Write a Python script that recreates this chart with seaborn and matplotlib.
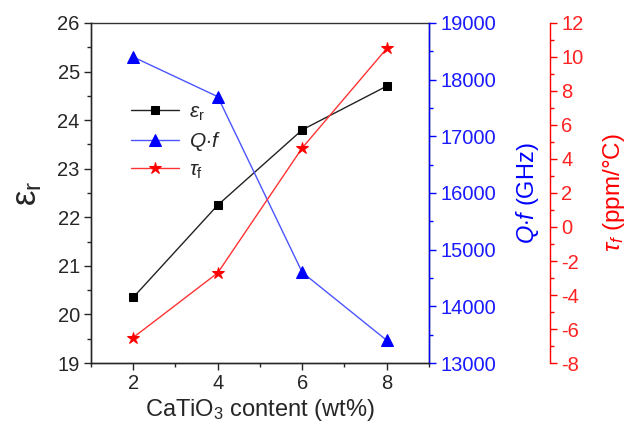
import matplotlib
matplotlib.use("Agg")
import matplotlib.pyplot as plt
from matplotlib.ticker import MultipleLocator
import pandas as pd
import seaborn as sns

# CaTiO3 content (wt%) and measured microwave dielectric properties
content = [2, 4, 6, 8]
eps_r = [20.35, 22.25, 23.8, 24.7]
qf = [18400, 17700, 14600, 13400]
tau_f = [-6.5, -2.7, 4.65, 10.5]

sns.set_theme(style="ticks")
plt.rcParams["font.family"] = ["Liberation Sans", "DejaVu Sans"]
plt.rcParams["mathtext.fontset"] = "custom"
plt.rcParams["mathtext.rm"] = "Liberation Sans"
plt.rcParams["mathtext.it"] = "Liberation Sans:italic"
plt.rcParams["mathtext.bf"] = "Liberation Sans:bold"
plt.rcParams["axes.unicode_minus"] = False

df = pd.DataFrame({"content": content, "eps": eps_r, "qf": qf, "tau": tau_f})

fig = plt.figure(figsize=(6.3, 4.36), dpi=100)
ax = fig.add_axes([0.1444, 0.1674, 0.5365, 0.7799])
ax2 = ax.twinx()
ax3 = ax.twinx()
ax3.spines["right"].set_position(("axes", 1.358))

lw = 1.0
sns.lineplot(data=df, x="content", y="eps", ax=ax, color="#222222", marker="s",
             markersize=6, markerfacecolor="black", markeredgecolor="black",
             linewidth=lw, label=r"$\it{\varepsilon}_\mathrm{r}$", legend=False)
sns.lineplot(data=df, x="content", y="qf", ax=ax2, color="#4b55ff", marker="^",
             markersize=8, markerfacecolor="#0000ff", markeredgecolor="#0000ff",
             linewidth=lw, label=r"$Q{\cdot}f$", legend=False)
sns.lineplot(data=df, x="content", y="tau", ax=ax3, color="#ff3333", marker="*",
             markersize=9, markerfacecolor="#ff0000", markeredgecolor="#ff0000",
             linewidth=lw, label=r"$\tau_\mathrm{f}$", legend=False)

ax.set_xlim(1, 9)
ax.set_ylim(19, 26)
ax2.set_ylim(13000, 19000)
ax3.set_ylim(-8, 12)

ax.yaxis.set_major_locator(MultipleLocator(1))
ax.yaxis.set_minor_locator(MultipleLocator(0.5))
ax2.yaxis.set_major_locator(MultipleLocator(1000))
ax2.yaxis.set_minor_locator(MultipleLocator(500))
ax3.yaxis.set_major_locator(MultipleLocator(2))
ax3.yaxis.set_minor_locator(MultipleLocator(1))

tick_fs = 14.5
for a in (ax, ax2, ax3):
    a.tick_params(which="major", direction="out", length=5, width=1, labelsize=tick_fs, pad=3)
    a.tick_params(which="minor", direction="out", length=3, width=1)
    a.set_xlabel("")

ax.set_xticks([2, 4, 6, 8])
ax.set_xticklabels(["2", "4", "6", "8"])
ax.xaxis.set_minor_locator(MultipleLocator(1))
ax.tick_params(axis="x", which="minor", labelbottom=False)

# spines
for a in (ax, ax2, ax3):
    for s in a.spines.values():
        s.set_linewidth(1.0)
ax.spines["top"].set_color("#333333")
ax.spines["left"].set_color("#333333")
ax.spines["bottom"].set_color("#333333")
ax2.spines["right"].set_color("#0000ff")
ax2.spines["top"].set_visible(False)
ax3.spines["top"].set_visible(False)
ax3.spines["left"].set_visible(False)
ax3.spines["bottom"].set_visible(False)
ax3.spines["right"].set_color("#ff0000")

ax2.tick_params(axis="y", which="both", colors="#0000ff")
ax3.tick_params(axis="y", which="both", colors="#ff0000")
for t in ax2.get_yticklabels():
    t.set_color("#1a1aff")
for t in ax3.get_yticklabels():
    t.set_color("#ff2222")

ax.set_xlabel(r"CaTiO$_3$ content (wt%)", fontsize=17, labelpad=3)
ax.set_ylabel("ε$_\\mathrm{r}$", fontsize=25, labelpad=10)
ax2.set_ylabel(r"$Q{\cdot}f$ (GHz)", fontsize=17, color="#0000ff", labelpad=13)
ax3.set_ylabel(r"$\it{\tau}_\mathit{f}$ (ppm/°C)", fontsize=17.5, color="#ff0000", labelpad=13)

handles = []
labels = []
for a in (ax, ax2, ax3):
    h, l = a.get_legend_handles_labels()
    handles += h
    labels += l
ax.legend(handles, labels, loc="upper left", bbox_to_anchor=(0.095, 0.79),
          frameon=False, fontsize=15, handlelength=2.3, handletextpad=0.45,
          labelspacing=0.35, borderaxespad=0)

fig.savefig("out.png", dpi=100)
